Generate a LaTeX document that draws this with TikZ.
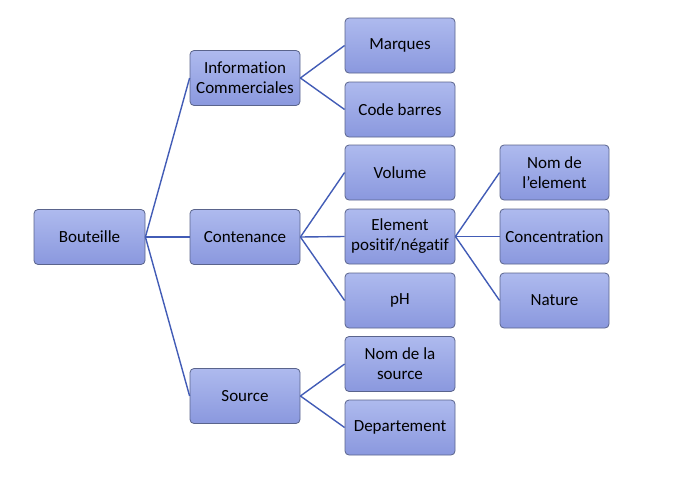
\documentclass[tikz,border=0pt]{standalone}
\usepackage{fontspec}
\setmainfont{Carlito}[Ligatures=NoCommon]
\usepackage{tikz}

\definecolor{boxtop}{RGB}{174,186,238}
\definecolor{boxbottom}{RGB}{138,152,222}
\definecolor{boxline}{RGB}{90,100,140}
\definecolor{linkline}{RGB}{66,92,182}

\begin{document}
\begin{tikzpicture}[
	x=1pt, y=-1pt,
	box/.style = {draw=boxline, line width=0.8pt, rounded corners=4pt,
		top color=boxtop, bottom color=boxbottom,
		minimum width=110pt, minimum height=55pt, inner sep=1pt,
		align=center, font=\fontsize{17}{20}\selectfont},
	link/.style = {draw=linkline, line width=1.4pt}
	]
	\useasboundingbox (0,0) rectangle (675,482);

	% root
	\node[box, minimum width=111pt] (Bouteille) at (89.5,237) {Bouteille};
	% level 1
	\node[box] (Info) at (245,78) {Information\\Commerciales};
	\node[box] (Contenance) at (245,237) {Contenance};
	\node[box] (Source) at (245,396) {Source};
	% level 2
	\node[box] (Marques) at (400,45.5) {Marques};
	\node[box] (Code) at (400,109.5) {Code barres};
	\node[box] (Volume) at (400,172.5) {Volume};
	\node[box] (Element) at (400,236.5) {Element\\positif/négatif};
	\node[box] (pH) at (400,300.5) {pH};
	\node[box] (NomSource) at (400,364) {Nom de la\\source};
	\node[box] (Dept) at (400,427.5) {Departement};
	% level 3
	\node[box, minimum width=109pt] (NomElement) at (554.5,172.5) {Nom de\\l'element};
	\node[box, minimum width=109pt] (Concentration) at (554.5,236.5) {Concentration};
	\node[box, minimum width=109pt] (Nature) at (554.5,300.5) {Nature};

	\foreach \a/\b in {Bouteille/Info, Bouteille/Contenance, Bouteille/Source,
		Info/Marques, Info/Code,
		Contenance/Volume, Contenance/Element, Contenance/pH,
		Source/NomSource, Source/Dept,
		Element/NomElement, Element/Concentration, Element/Nature}
		\draw[link] (\a.east) -- (\b.west);
\end{tikzpicture}
\end{document}
